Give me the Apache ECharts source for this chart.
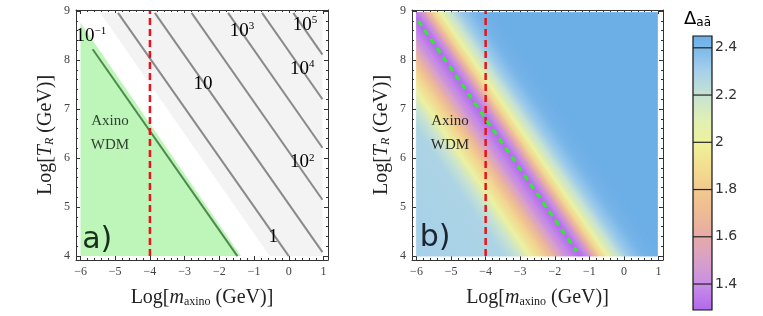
<!DOCTYPE html>
<html>
<head>
<meta charset="utf-8">
<script src="https://cdn.jsdelivr.net/npm/echarts@6/dist/echarts.min.js"></script>
<style>
html, body { margin: 0; padding: 0; background: #fff; }
#chart { width: 763px; height: 316px; }
</style>
</head>
<body>
<div id="chart"></div>
<script>
// ---- values ----
const xTicks = [-6, -5, -4, -3, -2, -1, 0, 1]
const yTicks = [4, 5, 6, 7, 8, 9]
const colorbarTicks = [1.4, 1.6, 1.8, 2, 2.2, 2.4]

// region covered by the scan (Log m_axino, Log T_R)
const scanX = [-6, 0.97]
const scanY = [4, 8.97]

// panel a: contour lines, [top point, end point]
const contourLines = [
  [[-4.92, 8.96], [0.0, 4.0]],
  [[-3.86, 8.96], [0.97, 4.08]],
  [[-2.80, 8.96], [0.97, 5.15]],
  [[-1.75, 8.96], [0.97, 6.21]],
  [[-0.77, 8.96], [0.97, 7.20]],
  [[0.13, 8.96], [0.97, 8.11]]
]
const contourLabelText = ['10^−1', '10', '10^3', '10^5', '10^4', '10^2', '1']
const contourLabelX = [-5.7, -2.47, -1.35, 0.47, 0.39, 0.39, -0.45]
const contourLabelY = [8.49, 7.52, 8.59, 8.72, 7.82, 5.91, 4.39]

// axino WDM region (below the 10^-1 contour)
const wdmRegion = [[-6, 8.76], [-1.38, 4.0], [-6, 4.0]]
const wdmLine = [[-5.65, 8.22], [-1.48, 4.0]]
const textureEdge = [[-5.43, 8.96], [-0.55, 4.0]]
const massCut = -4

// panel b: Delta along a cut across the valley (offset in Log m from the valley)
const valleyLine = [[-5.95, 8.8], [-1.36, 4.09]]
const profileOffset = [-5, -2.2, -1.8, -1.45, -1.1, -0.8, -0.55, -0.3, 0, 0.2, 0.4, 0.6, 0.8, 1.1, 1.4, 1.8, 2.3, 8]
const profileDelta = [2.30, 2.28, 2.2, 2.02, 1.85, 1.68, 1.5, 1.38, 1.30, 1.38, 1.6, 1.85, 2.02, 2.2, 2.33, 2.42, 2.45, 2.45]

// colour scale
const cbValues = [1.29, 1.4, 1.5, 1.6, 1.7, 1.8, 1.9, 2.0, 2.1, 2.2, 2.3, 2.4, 2.45]
const cbColors = ['#b168ec', '#c88ee6', '#d8a0c8', '#e6aaa8', '#eeba94', '#f1ca8e', '#f3df90', '#eef29c', '#e0efb6', '#c6e2d2', '#a6d0ea', '#7cb8ea', '#6caee6']

const serif = "'Liberation Serif', 'DejaVu Serif', serif"
const sans = "'DejaVu Sans', sans-serif"
const xMin = -6.13, xMax = 1.13, yMin = 3.92, yMax = 9.02

const chart = echarts.init(document.getElementById('chart'))

function deltaColor(v) {
  for (let j = 0; j < cbValues.length - 1; j++) {
    if (v <= cbValues[j + 1]) {
      const t = Math.max(0, (v - cbValues[j]) / (cbValues[j + 1] - cbValues[j]))
      return echarts.color.lerp(t, [cbColors[j], cbColors[j + 1]])
    }
  }
  return cbColors[cbColors.length - 1]
}

function lineX(line, y) {
  const [[x0, y0], [x1, y1]] = line
  return x0 + (y - y0) * (x1 - x0) / (y1 - y0)
}

// keep a polygon between two x limits
function clipX(poly, lo, hi) {
  const side = (pts, inside, xc) => {
    const out = []
    pts.forEach((a, i) => {
      const b = pts[(i + 1) % pts.length]
      if (inside(a)) out.push(a)
      if (inside(a) !== inside(b)) {
        const t = (xc - a[0]) / (b[0] - a[0])
        out.push([xc, a[1] + t * (b[1] - a[1])])
      }
    })
    return out
  }
  return side(side(poly, p => p[0] >= lo, lo), p => p[0] <= hi, hi)
}

const minor = (a, b) => {
  const out = []
  for (let v = a; v <= b + 1e-9; v += 0.2) {
    const r = Math.round(v * 10) / 10
    if (Math.abs(r - Math.round(r)) > 1e-6) out.push(r)
  }
  return out
}
const xMinor = minor(-6, 1)
const yMinor = minor(4, 9)
const fmt = v => String(v).replace('-', '−')

function frameAxes(gridIndex, min, max, major, minorVals, sides, extra) {
  const out = []
  sides.forEach((pos, k) => {
    [major, minorVals].forEach((vals, m) => {
      const main = k === 0 && m === 0
      out.push(Object.assign({
        type: 'value', gridIndex, min, max, position: pos,
        axisLine: { show: m === 0, onZero: false, lineStyle: { color: '#333', width: 1 } },
        axisTick: { show: true, inside: true, length: m === 0 ? 4 : 2, customValues: vals, lineStyle: { color: '#333' } },
        axisLabel: { show: main, customValues: major, formatter: fmt, fontFamily: serif, fontSize: 12, color: '#444', margin: 6 },
        splitLine: { show: false }
      }, main ? extra : {}))
    })
  })
  return out
}

const richName = {
  n: { fontFamily: serif, fontSize: 20, color: '#222' },
  i: { fontFamily: serif, fontSize: 20, color: '#222', fontStyle: 'italic' },
  s: { fontFamily: serif, fontSize: 12, color: '#222', verticalAlign: 'bottom', padding: [7, 0, 0, 0] },
  si: { fontFamily: serif, fontSize: 12, color: '#222', fontStyle: 'italic', verticalAlign: 'bottom', padding: [7, 0, 0, 0] }
}
const xName = {
  name: '{n|Log[}{i|m}{s|axino}{n| (GeV)]}', nameLocation: 'middle', nameGap: 28,
  nameTextStyle: { rich: richName }, nameMoveOverlap: false
}
const yName = {
  name: '{n|Log[}{i|T}{si|R}{n| (GeV)]}', nameLocation: 'middle', nameGap: 20,
  nameTextStyle: { rich: richName }, nameMoveOverlap: false
}

const xAxes = [
  ...frameAxes(0, xMin, xMax, xTicks, xMinor, ['bottom', 'top'], xName),
  ...frameAxes(1, xMin, xMax, xTicks, xMinor, ['bottom', 'top'], xName),
  { type: 'value', gridIndex: 2, min: 0, max: 1, show: false }
]
const yAxes = [
  ...frameAxes(0, yMin, yMax, yTicks, yMinor, ['left', 'right'], yName),
  ...frameAxes(1, yMin, yMax, yTicks, yMinor, ['left', 'right'], yName),
  {
    type: 'value', gridIndex: 2, min: 1.29, max: 2.45, position: 'right',
    axisLine: { show: false }, axisTick: { show: false }, splitLine: { show: false },
    axisLabel: { customValues: colorbarTicks, fontFamily: sans, fontSize: 14, color: '#333', margin: 3 }
  }
]

const segLine = (lines, color, width, dash) => (params, api) => {
  const d = lines[params.dataIndex]
  const a = api.coord(d[0]), b = api.coord(d[1])
  return { type: 'line', shape: { x1: a[0], y1: a[1], x2: b[0], y2: b[1] },
    style: { stroke: color, lineWidth: width, lineDash: dash || null } }
}

function lineSeries(gi, lines, color, width, dash, z) {
  return { type: 'custom', xAxisIndex: gi * 4, yAxisIndex: gi * 4, data: lines.map((l, i) => i),
    renderItem: segLine(lines, color, width, dash), z: z || 2 }
}

function textSeries(gi, items, style) {
  return {
    type: 'custom', xAxisIndex: gi * 4, yAxisIndex: gi * 4, data: items.map((t, i) => i), z: 10,
    renderItem: (params, api) => {
      const d = items[params.dataIndex]
      const p = api.coord([d[1], d[2]])
      return { type: 'text', x: p[0], y: p[1],
        style: Object.assign({ text: d[0], align: 'center', verticalAlign: 'middle' }, style) }
    }
  }
}

const supRich = {
  b: { fontFamily: serif, fontSize: 19, color: '#111', lineHeight: 20 },
  p: { fontFamily: serif, fontSize: 11, color: '#111', verticalAlign: 'top', lineHeight: 20, padding: [0, 0, 8, 0] }
}
const contourLabels = contourLabelText.map((t, i) => {
  const [base, sup] = t.split('^')
  return [sup ? '{b|' + base + '}{p|' + sup + '}' : '{b|' + base + '}', contourLabelX[i], contourLabelY[i]]
})

const massCutLine = [[[massCut, 4], [massCut, 9]]]

const series = [
  // ---- panel a ----
  {
    type: 'custom', xAxisIndex: 0, yAxisIndex: 0, data: [0],
    renderItem: (params, api) => {
      const poly = [textureEdge[0], [scanX[1], textureEdge[0][1]], [scanX[1], scanY[0]], textureEdge[1]]
      return { type: 'polygon', shape: { points: poly.map(p => api.coord(p)) }, style: { fill: '#f3f3f3' } }
    }
  },
  {
    type: 'custom', xAxisIndex: 0, yAxisIndex: 0, data: [0],
    renderItem: (params, api) => ({ type: 'polygon', shape: { points: wdmRegion.map(p => api.coord(p)) },
      style: { fill: '#bef5b9' } })
  },
  lineSeries(0, contourLines, '#8a8a8a', 2),
  lineSeries(0, [wdmLine], '#4e8a4e', 2),
  lineSeries(0, massCutLine, '#e8141c', 2.5, [7, 4], 5),
  textSeries(0, contourLabels, { rich: supRich }),
  textSeries(0, [['Axino', -5.15, 6.76], ['WDM', -5.15, 6.26]], { font: '15px ' + serif, fill: '#2f422f' }),
  textSeries(0, [['a)', -5.52, 4.33]], { font: '30px ' + sans, fill: '#17301a' }),

  // ---- panel b ----
  {
    type: 'custom', xAxisIndex: 4, yAxisIndex: 4,
    data: profileOffset.slice(1).map((o, i) => i),
    renderItem: (params, api) => {
      const i = params.dataIndex
      const yT = scanY[1], yB = scanY[0]
      const xT = lineX(valleyLine, yT), xB = lineX(valleyLine, yB)
      const o0 = profileOffset[i], o1 = profileOffset[i + 1]
      const poly = clipX([[xT + o0, yT], [xT + o1, yT], [xB + o1, yB], [xB + o0, yB]], scanX[0], scanX[1])
      if (poly.length < 3) return
      const ym = (yT + yB) / 2, xm = lineX(valleyLine, ym)
      const a = api.coord([xm + o0, ym]), b = api.coord([xm + o1, ym])
      const d0 = api.coord([xT, yT]), d1 = api.coord([xB, yB])
      let dx = d1[0] - d0[0], dy = d1[1] - d0[1]
      const len = Math.hypot(dx, dy); dx /= len; dy /= len
      const vx = b[0] - a[0], vy = b[1] - a[1], dot = vx * dx + vy * dy
      const grad = new echarts.graphic.LinearGradient(a[0], a[1], a[0] + vx - dot * dx, a[1] + vy - dot * dy, [
        { offset: 0, color: deltaColor(profileDelta[i]) },
        { offset: 1, color: deltaColor(profileDelta[i + 1]) }
      ], true)
      return { type: 'polygon', shape: { points: poly.map(p => api.coord(p)) },
        style: { fill: grad, stroke: grad, lineWidth: 0.8 } }
    }
  },
  lineSeries(1, massCutLine, '#e8141c', 2.5, [7, 4], 5),
  lineSeries(1, [valleyLine], '#33ea33', 3, [6, 5], 6),
  textSeries(1, [['Axino', -5.03, 6.76], ['WDM', -5.03, 6.26]], { font: '15px ' + serif, fill: '#2a2a2a' }),
  textSeries(1, [['b)', -5.46, 4.36]], { font: '30px ' + sans, fill: '#1c2530' }),

  // ---- colour bar ----
  {
    type: 'custom', xAxisIndex: 8, yAxisIndex: 8, data: [0],
    renderItem: (params, api) => {
      const lo = cbValues[0], hi = cbValues[cbValues.length - 1]
      const p0 = api.coord([0, hi]), p1 = api.coord([1, lo])
      const stops = cbValues.map((v, j) => ({ offset: (v - lo) / (hi - lo), color: cbColors[j] }))
      return { type: 'rect', shape: { x: p0[0], y: p0[1], width: p1[0] - p0[0], height: p1[1] - p0[1] },
        style: { fill: new echarts.graphic.LinearGradient(0, 1, 0, 0, stops), stroke: '#111', lineWidth: 1.2 } }
    }
  },
  {
    type: 'custom', xAxisIndex: 8, yAxisIndex: 8, data: colorbarTicks.map((v, i) => i),
    renderItem: (params, api) => {
      const v = colorbarTicks[params.dataIndex]
      const a = api.coord([0, v]), b = api.coord([1, v])
      return { type: 'line', shape: { x1: a[0], y1: a[1], x2: b[0], y2: b[1] }, style: { stroke: '#222', lineWidth: 1.2 } }
    }
  }
]

chart.setOption({
  animation: false,
  grid: [
    { left: 76, top: 10, width: 252, height: 250 },
    { left: 412, top: 10, width: 251, height: 250 },
    { left: 693, top: 36, width: 19, height: 274 }
  ],
  xAxis: xAxes,
  yAxis: yAxes,
  graphic: [{
    type: 'text', left: 684, top: 10,
    style: {
      text: '{d|Δ}{s|aā}',
      rich: {
        d: { fontFamily: sans, fontSize: 18, color: '#222' },
        s: { fontFamily: sans, fontSize: 12, color: '#222', verticalAlign: 'bottom', padding: [8, 0, 0, 0] }
      }
    }
  }],
  series
})
</script>
</body>
</html>
